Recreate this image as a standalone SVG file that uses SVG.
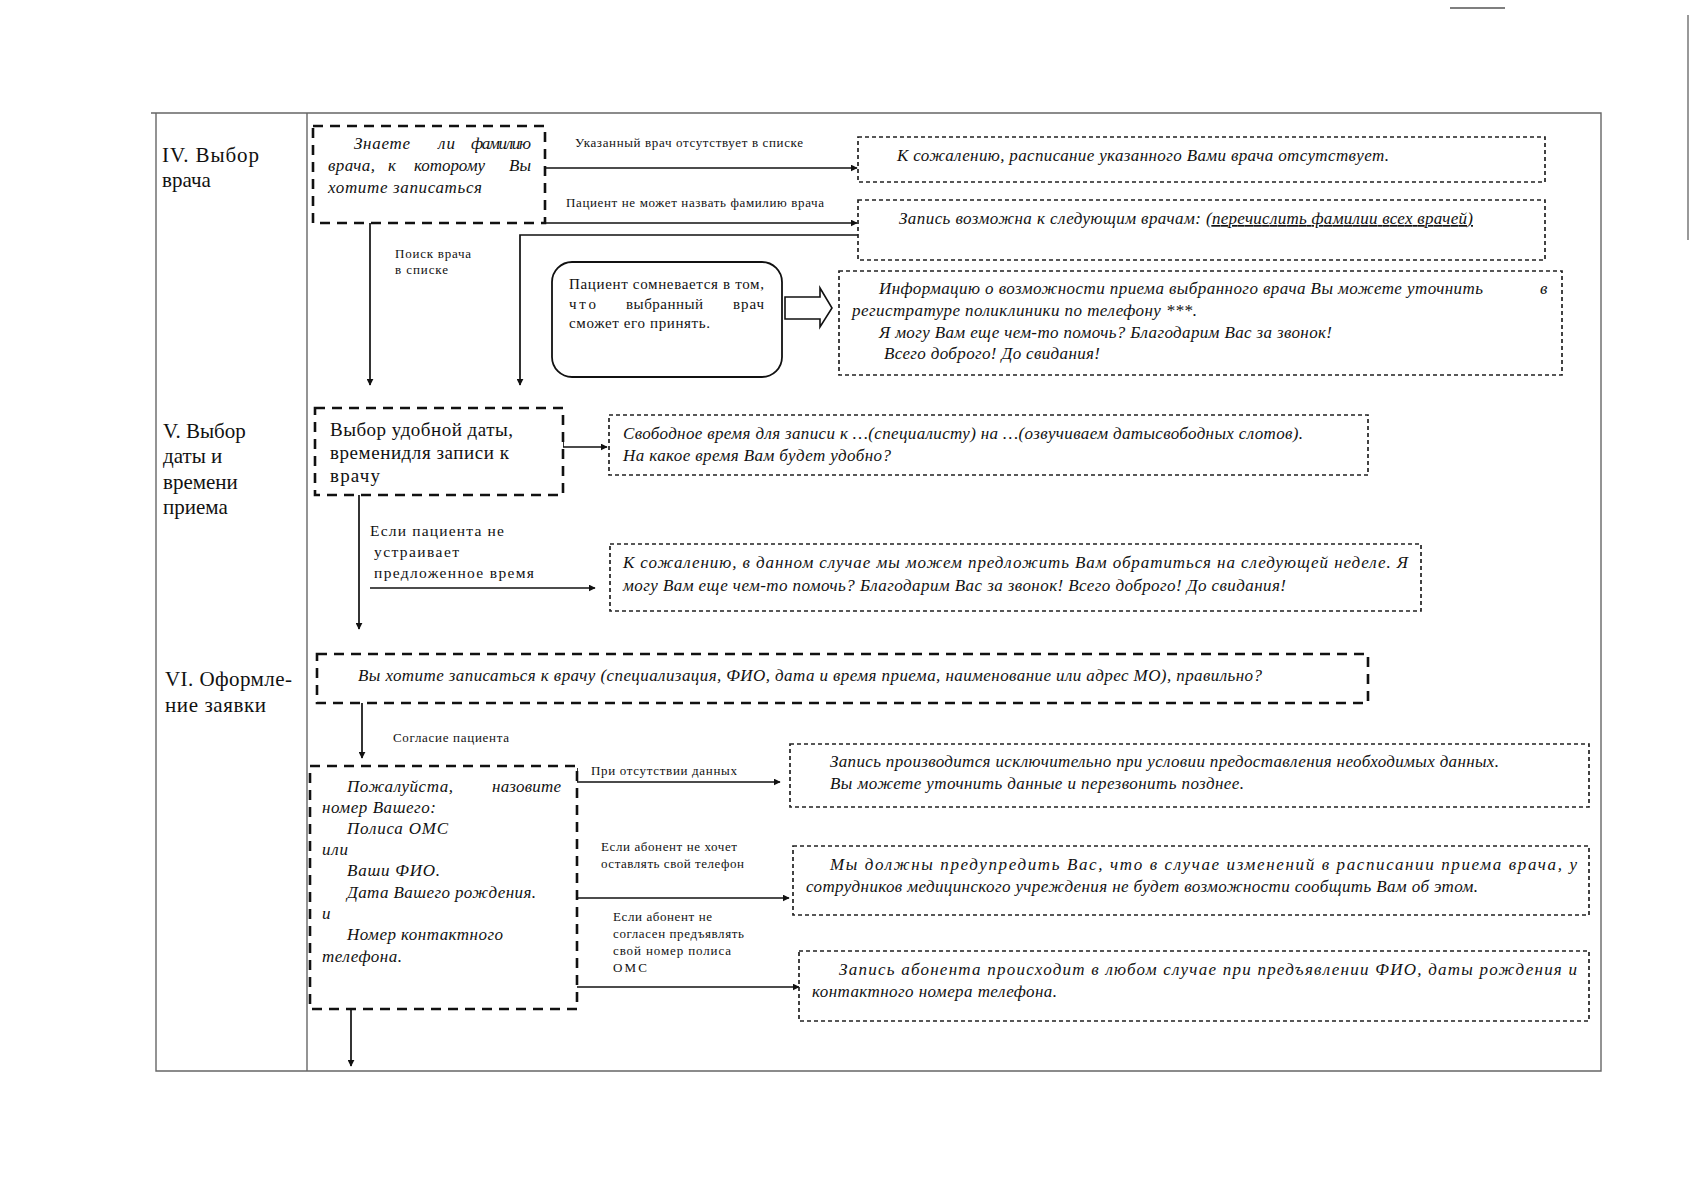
<svg xmlns="http://www.w3.org/2000/svg" width="1691" height="1200" viewBox="0 0 1691 1200">
<style>
.frame{stroke:#666;stroke-width:1.4;fill:none}
.thick{stroke:#111;stroke-width:2.6;stroke-dasharray:10 7;fill:#fff}
.thin{stroke:#222;stroke-width:1.7;stroke-dasharray:4 3;fill:#fff}
.conn{stroke:#111;stroke-width:1.7;fill:none;marker-end:url(#ah)}
.t{font-family:"Liberation Serif","DejaVu Serif",serif;fill:#111}
.it{font-style:italic}
.lbl{font-size:13px}
.row{font-size:21px}
.bx{font-size:17px}
</style>
<defs>
<marker id="ah" viewBox="0 0 10 10" refX="9" refY="5" markerWidth="7" markerHeight="7" markerUnits="userSpaceOnUse" orient="auto">
<path d="M0,0 L10,5 L0,10 z" fill="#111"/>
</marker>
</defs>
<rect width="1691" height="1200" fill="#fff"/>

<g id="page">
<line x1="1450" y1="8" x2="1505" y2="8" stroke="#555" stroke-width="1.5"/>
<line x1="1688" y1="15" x2="1688" y2="240" stroke="#777" stroke-width="1.5"/>
<path class="frame" d="M151,113 H1601 V1071 H156 V113"/>
<line class="frame" x1="307" y1="113" x2="307" y2="1071"/>
</g>

<g id="rows">
<text class="t row" x="162" y="162" textLength="97">IV. Выбор</text>
<text class="t row" x="162" y="187">врача</text>
<text class="t row" x="163" y="438">V. Выбор</text>
<text class="t row" x="163" y="463">даты и</text>
<text class="t row" x="163" y="489">времени</text>
<text class="t row" x="163" y="514">приема</text>
<text class="t row" x="165" y="686" textLength="127">VI. Оформле-</text>
<text class="t row" x="165" y="712" textLength="101">ние заявки</text>
</g>

<g id="connectors">
<path class="conn" d="M545,168 H857"/>
<path class="conn" d="M545,223 H857"/>
<path class="conn" d="M858,235 H520 V385"/>
<path class="conn" d="M370,223 V385"/>
<path class="conn" d="M563,440 V447 H607"/>
<path class="conn" d="M359,495 V629"/>
<path class="conn" d="M370,588 H595"/>
<path class="conn" d="M362,703 V758"/>
<path class="conn" d="M577,768 V782 H780"/>
<path class="conn" d="M577,898 H789"/>
<path class="conn" d="M577,987 H799"/>
<path class="conn" d="M351,1009 V1066"/>
<text class="t lbl" x="575" y="147" textLength="228">Указанный врач отсутствует в списке</text>
<text class="t lbl" x="566" y="207" textLength="258">Пациент не может назвать фамилию врача</text>
<text class="t lbl" x="395" y="258" textLength="76">Поиск врача</text>
<text class="t lbl" x="395" y="274" textLength="53">в списке</text>
<text class="t" font-size="15.5" x="370" y="536" textLength="134">Если пациента не</text>
<text class="t" font-size="15.5" x="374" y="557" textLength="85">устраивает</text>
<text class="t" font-size="15.5" x="374" y="578" textLength="160">предложенное время</text>
<text class="t lbl" x="393" y="742" textLength="116">Согласие пациента</text>
<text class="t lbl" x="591" y="775" textLength="146">При отсутствии данных</text>
<text class="t lbl" x="601" y="851" textLength="136">Если абонент не хочет</text>
<text class="t lbl" x="601" y="868" textLength="143">оставлять свой телефон</text>
<text class="t lbl" x="613" y="921" textLength="99">Если абонент не</text>
<text class="t lbl" x="613" y="938" textLength="131">согласен предъявлять</text>
<text class="t lbl" x="613" y="955" textLength="118">свой  номер полиса</text>
<text class="t lbl" x="613" y="972" textLength="34">ОМС</text>
</g>

<g id="q-doctor">
<rect class="thick" x="313" y="126" width="232" height="97"/>
<text class="t it bx" x="354" y="149" textLength="56">Знаете</text>
<text class="t it bx" x="438" y="149" textLength="17">ли</text>
<text class="t it bx" x="471" y="149" textLength="60">фамилию</text>
<text class="t it bx" x="328" y="171" textLength="47">врача,</text>
<text class="t it bx" x="388" y="171" textLength="9">к</text>
<text class="t it bx" x="414" y="171" textLength="71">которому</text>
<text class="t it bx" x="509" y="171" textLength="22">Вы</text>
<text class="t it bx" x="328" y="193" textLength="154">хотите записаться</text>
</g>

<g id="r-absent">
<rect class="thin" x="858" y="137" width="687" height="45"/>
<text class="t it bx" x="897" y="161" textLength="492">К сожалению, расписание указанного Вами врача отсутствует.</text>
</g>

<g id="r-list">
<rect class="thin" x="858" y="200" width="687" height="60"/>
<text class="t it bx" x="899" y="224" textLength="302">Запись возможна к следующим врачам:</text>
<text class="t it bx" x="1206" y="224" textLength="267" text-decoration="underline">(перечислить фамилии всех врачей)</text>
</g>

<g id="doubt">
<rect x="552" y="262" width="230" height="115" rx="20" ry="20" fill="#fff" stroke="#111" stroke-width="1.8"/>
<text class="t" font-size="15" x="569" y="289" textLength="195">Пациент сомневается в том,</text>
<text class="t" font-size="15" x="569" y="309" textLength="27">что</text>
<text class="t" font-size="15" x="626" y="309" textLength="77">выбранный</text>
<text class="t" font-size="15" x="733" y="309" textLength="31">врач</text>
<text class="t" font-size="15" x="569" y="328" textLength="141">сможет его принять.</text>
</g>

<g id="block-arrow">
<path d="M785,297 H820 V288 L832,308 L820,327 V319 H785 Z" fill="#fff" stroke="#111" stroke-width="1.6"/>
</g>

<g id="r-info">
<rect class="thin" x="839" y="271" width="723" height="104"/>
<text class="t it bx" x="879" y="294" textLength="604">Информацию о возможности приема выбранного врача Вы можете уточнить</text>
<text class="t it bx" x="1540" y="294">в</text>
<text class="t it bx" x="852" y="316" textLength="345">регистратуре поликлиники по телефону ***.</text>
<text class="t it bx" x="879" y="338" textLength="453">Я могу Вам еще чем-то помочь? Благодарим Вас за звонок!</text>
<text class="t it bx" x="884" y="359" textLength="216">Всего доброго! До свидания!</text>
</g>

<g id="date-choice">
<rect class="thick" x="315" y="408" width="248" height="87"/>
<text class="t" font-size="19" x="330" y="436" textLength="183">Выбор удобной даты,</text>
<text class="t" font-size="19" x="330" y="459" textLength="179">временидля записи к</text>
<text class="t" font-size="19" x="330" y="482" textLength="50">врачу</text>
</g>

<g id="r-free">
<rect class="thin" x="609" y="415" width="759" height="60"/>
<text class="t it bx" x="623" y="439" textLength="680">Свободное время для записи к …(специалисту) на …(озвучиваем датысвободных слотов).</text>
<text class="t it bx" x="623" y="461" textLength="268">На какое время Вам будет удобно?</text>
</g>

<g id="r-nextweek">
<rect class="thin" x="610" y="544" width="811" height="67"/>
<text class="t it bx" x="623" y="568" textLength="785">К сожалению,  в данном случае мы можем предложить Вам обратиться на следующей неделе.  Я</text>
<text class="t it bx" x="623" y="591" textLength="663">могу Вам еще чем-то помочь? Благодарим Вас за звонок!  Всего доброго! До свидания!</text>
</g>

<g id="confirm">
<rect class="thick" x="317" y="654" width="1051" height="49"/>
<text class="t it bx" x="358" y="681" textLength="904">Вы хотите записаться к врачу (специализация, ФИО, дата и время приема,  наименование или адрес МО), правильно?</text>
</g>

<g id="ask-data">
<rect class="thick" x="310" y="766" width="267" height="243"/>
<text class="t it bx" x="347" y="792" textLength="106">Пожалуйста,</text>
<text class="t it bx" x="492" y="792" textLength="69">назовите</text>
<text class="t it bx" x="322" y="813" textLength="114">номер Вашего:</text>
<text class="t it bx" x="347" y="834" textLength="101">Полиса ОМС</text>
<text class="t it bx" x="322" y="855" textLength="26">или</text>
<text class="t it bx" x="347" y="876" textLength="93">Ваши ФИО.</text>
<text class="t it bx" x="347" y="898" textLength="189">Дата Вашего рождения.</text>
<text class="t it bx" x="322" y="919">и</text>
<text class="t it bx" x="347" y="940" textLength="156">Номер контактного</text>
<text class="t it bx" x="322" y="962" textLength="80">телефона.</text>
</g>

<g id="r-nodata">
<rect class="thin" x="790" y="744" width="799" height="63"/>
<text class="t it bx" x="830" y="767" textLength="669">Запись производится исключительно при условии предоставления необходимых данных.</text>
<text class="t it bx" x="830" y="789" textLength="414">Вы можете уточнить данные и перезвонить позднее.</text>
</g>

<g id="r-warn">
<rect class="thin" x="793" y="846" width="796" height="69"/>
<text class="t it bx" x="830" y="870" textLength="747">Мы должны предупредить Вас, что в случае изменений в расписании приема врача, у</text>
<text class="t it bx" x="806" y="892" textLength="672">сотрудников медицинского учреждения не будет возможности сообщить Вам об этом.</text>
</g>

<g id="r-anyway">
<rect class="thin" x="799" y="951" width="790" height="70"/>
<text class="t it bx" x="839" y="975" textLength="738">Запись абонента происходит в любом случае при предъявлении ФИО, даты рождения и</text>
<text class="t it bx" x="812" y="997" textLength="245">контактного номера телефона.</text>
</g>
</svg>
